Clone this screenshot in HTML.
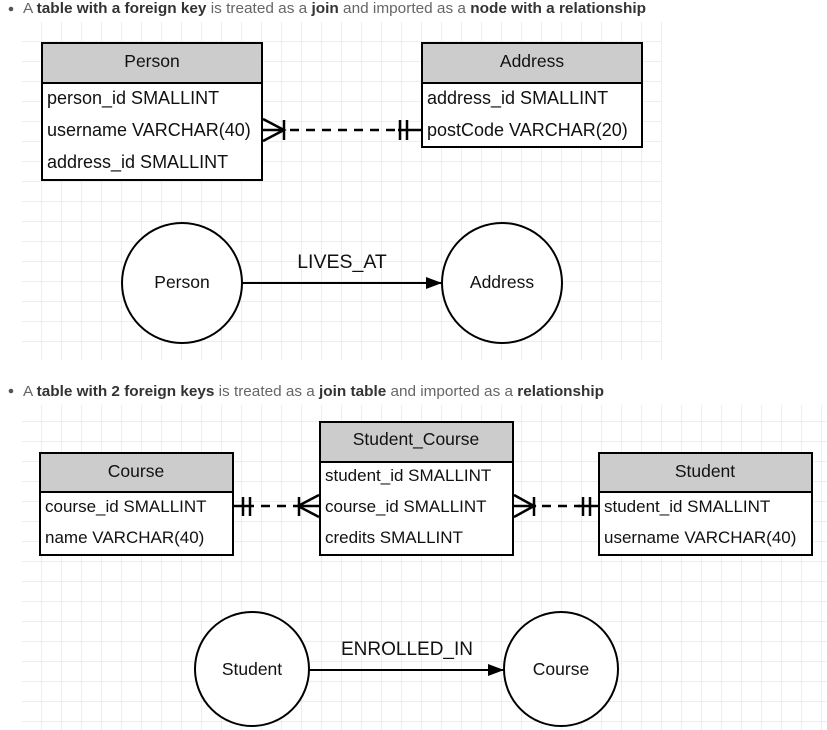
<!DOCTYPE html>
<html><head><meta charset="utf-8"><style>
html,body{margin:0;padding:0;background:#fff;}
svg{display:block;}
</style></head><body>
<svg width="827" height="730" xmlns="http://www.w3.org/2000/svg" font-family="Liberation Sans, sans-serif">
<defs>
<pattern id="g" x="2" y="2" width="20" height="20" patternUnits="userSpaceOnUse">
<path d="M20 0V20M0 20H20" stroke="#dcdcdc" stroke-width="1" fill="none"/>
</pattern>
<marker id="ar" markerWidth="16" markerHeight="12" refX="16" refY="6" orient="auto" markerUnits="userSpaceOnUse">
<path d="M0 0L16 6L0 12Z" fill="#000"/>
</marker>
</defs>
<rect x="22" y="22" width="640" height="338" fill="url(#g)"/>
<rect x="22" y="405" width="805" height="325" fill="url(#g)"/>

<circle cx="11" cy="9" r="2.3" fill="#555"/>
<text x="23" y="13" font-size="14.5" fill="#666" textLength="623" lengthAdjust="spacingAndGlyphs">A <tspan font-weight="bold" fill="#333">table with a foreign key</tspan> is treated as a <tspan font-weight="bold" fill="#333">join</tspan> and imported as a <tspan font-weight="bold" fill="#333">node with a relationship</tspan></text>
<circle cx="11" cy="391" r="2.3" fill="#555"/>
<text x="23" y="396" font-size="14.5" fill="#666" textLength="581" lengthAdjust="spacingAndGlyphs">A <tspan font-weight="bold" fill="#333">table with 2 foreign keys</tspan> is treated as a <tspan font-weight="bold" fill="#333">join table</tspan> and imported as a <tspan font-weight="bold" fill="#333">relationship</tspan></text>

<g stroke="#000" stroke-width="2">
<rect x="42" y="43" width="220" height="40" fill="#cccccc"/>
<rect x="42" y="83" width="220" height="97" fill="#fff"/>
<rect x="422" y="43" width="220" height="40" fill="#cccccc"/>
<rect x="422" y="83" width="220" height="64" fill="#fff"/>
<rect x="40" y="453" width="193" height="39" fill="#cccccc"/>
<rect x="40" y="492" width="193" height="63" fill="#fff"/>
<rect x="320" y="422" width="193" height="40" fill="#cccccc"/>
<rect x="320" y="462" width="193" height="93" fill="#fff"/>
<rect x="599" y="453" width="213" height="39" fill="#cccccc"/>
<rect x="599" y="492" width="213" height="63" fill="#fff"/>
</g>
<g font-size="17.5" fill="#111" text-anchor="middle">
<text x="152" y="67">Person</text>
<text x="532" y="67">Address</text>
<text x="136" y="477">Course</text>
<text x="416" y="445">Student_Course</text>
<text x="705" y="477">Student</text>
</g>
<g font-size="18" fill="#111">
<text x="47" y="104">person_id SMALLINT</text>
<text x="47" y="136">username VARCHAR(40)</text>
<text x="47" y="168">address_id SMALLINT</text>
<text x="427" y="104">address_id SMALLINT</text>
<text x="427" y="136">postCode VARCHAR(20)</text>
<text x="45" y="512" font-size="17">course_id SMALLINT</text>
<text x="45" y="543" font-size="17">name VARCHAR(40)</text>
<text x="325" y="481" font-size="17">student_id SMALLINT</text>
<text x="325" y="512" font-size="17">course_id SMALLINT</text>
<text x="325" y="543" font-size="17">credits SMALLINT</text>
<text x="604" y="512" font-size="17">student_id SMALLINT</text>
<text x="604" y="543" font-size="17">username VARCHAR(40)</text>
</g>

<g stroke="#000" stroke-width="2.5" fill="none">
<path d="M263 119L284 130L263 141M262 130H284M284 120V140"/>
<path d="M290 130H402" stroke-dasharray="9,7"/>
<path d="M398 130H422M400 120V140M407 120V140"/>

<path d="M233 506H254M243 497V516M250 497V516"/>
<path d="M261 506H300" stroke-dasharray="9,7"/>
<path d="M298 506H320M319 495L298 506L319 517M299 497V516"/>

<path d="M514 495L534 506L514 517M513 506H536M534 497V516"/>
<path d="M542 506H580" stroke-dasharray="9,7"/>
<path d="M578 506H599M583 497V516M590 497V516"/>
</g>

<g stroke="#000" stroke-width="2" fill="#fff">
<circle cx="182" cy="283" r="60"/>
<circle cx="502" cy="283" r="60"/>
<circle cx="252" cy="669" r="57"/>
<circle cx="561" cy="669" r="57"/>
<line x1="242" y1="283" x2="442" y2="283" marker-end="url(#ar)"/>
<line x1="309" y1="670" x2="504" y2="670" marker-end="url(#ar)"/>
</g>
<g font-size="17.5" fill="#111" text-anchor="middle">
<text x="182" y="288">Person</text>
<text x="502" y="288">Address</text>
<text x="342" y="268" font-size="19.5">LIVES_AT</text>
<text x="252" y="675">Student</text>
<text x="561" y="675">Course</text>
<text x="407" y="655" font-size="19">ENROLLED_IN</text>
</g>
</svg>
</body></html>
